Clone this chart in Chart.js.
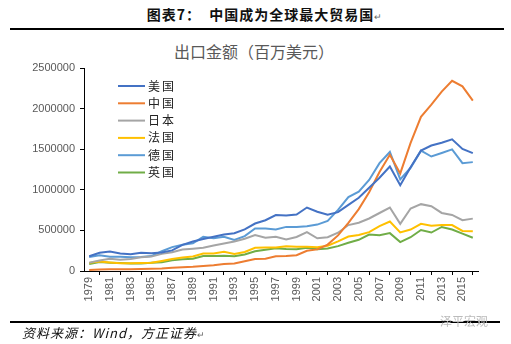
<!DOCTYPE html>
<html>
<head>
<meta charset="utf-8">
<script src="https://cdn.jsdelivr.net/npm/chart.js@4.4.1/dist/chart.umd.min.js"></script>
<style>
  html, body { margin: 0; padding: 0; background: #fff; }
  body { width: 511px; height: 344px; position: relative; overflow: hidden; font-family: "Noto Sans CJK SC", sans-serif; }
  #wrap { position: absolute; left: 0; top: 0; width: 511px; height: 344px; }
  .head { position: absolute; top: 4px; left: 0; width: 530px; text-align: center; font-size: 14px; font-weight: bold; color: #111; letter-spacing: 1px; }
  .rule { position: absolute; left: 10px; width: 494px; height: 2px; background: #000; }
  .ctitle { position: absolute; top: 39px; left: 0; width: 508px; text-align: center; font-size: 16px; color: #595959; }
  .src { position: absolute; left: 22px; top: 323px; font-size: 13px; font-style: italic; color: #111; letter-spacing: 1px; }
  .mark { position: absolute; left: 440px; top: 312px; font-size: 12px; color: #bbb; }
</style>
</head>
<body>
<div class="head">图表7：&nbsp;&nbsp;中国成为全球最大贸易国<span style="font-size:9px;font-weight:normal;color:#666">↵</span></div>
<div class="rule" style="top:28px"></div>
<div class="ctitle">出口金额（百万美元）</div>
<div id="wrap"><canvas id="c" width="511" height="344"></canvas></div>
<div class="rule" style="top:321px; width:490px"></div>
<div class="src">资料来源：Wind，方正证券<span style="font-size:9px;font-style:normal;color:#666">↵</span></div>
<div class="mark">泽平宏观</div>
<script>
// years on the x axis
const years = [];
for (let y = 1979; y <= 2016; y++) years.push(String(y));

// export values, millions of USD
const usa = [181800, 225600, 238700, 216400, 205600, 224000, 218800, 227200, 254100, 322400, 363800, 393600, 421700, 448200, 464800, 512600, 584700, 625100, 688700, 682100, 695800, 781900, 729100, 693100, 724800, 814900, 901100, 1026000, 1148200, 1287400, 1056000, 1278500, 1482500, 1545700, 1579600, 1621900, 1503100, 1451000];
const china = [13700, 18100, 22000, 22300, 22200, 26100, 27400, 30900, 39400, 47500, 52500, 62100, 71800, 84900, 91700, 121000, 148800, 151000, 182800, 183700, 194900, 249200, 266100, 325600, 438200, 593300, 762000, 969000, 1220100, 1430700, 1201600, 1577800, 1898400, 2048700, 2209000, 2342300, 2273500, 2097600];
const japan = [103000, 130400, 151500, 138400, 147000, 170100, 177200, 210800, 231300, 264900, 275200, 287600, 314800, 339900, 362200, 397000, 443100, 410900, 421000, 387900, 419400, 479200, 403500, 416700, 471800, 565700, 594900, 646700, 714300, 781400, 580700, 769800, 823200, 798600, 715100, 690200, 624900, 644900];
const france = [100000, 116000, 106000, 96000, 94000, 97000, 101000, 124000, 148000, 167000, 179000, 216000, 217000, 236000, 210000, 235000, 286000, 288000, 290000, 306000, 300000, 298000, 294000, 311000, 365000, 424000, 443000, 479000, 552000, 609000, 475000, 511000, 581000, 558000, 567000, 566000, 494000, 489000];
const germany = [171800, 192900, 176000, 176400, 169400, 171700, 183900, 243300, 294400, 323300, 341200, 421100, 402800, 422300, 382500, 429700, 523800, 524200, 512400, 543400, 542900, 551800, 571600, 615800, 751700, 909900, 977100, 1121900, 1328800, 1466100, 1127800, 1271100, 1482200, 1410100, 1452700, 1498200, 1328500, 1340800];
const uk = [86400, 110100, 102800, 97000, 91700, 93800, 101400, 107000, 131200, 145100, 152300, 185300, 185100, 187500, 181600, 204000, 242000, 262100, 281100, 271900, 268200, 285400, 267400, 276300, 306600, 347600, 384400, 448300, 441200, 466300, 356100, 416000, 505000, 474000, 542000, 511000, 460000, 409000];

const seriesNames = ['美国', '中国', '日本', '法国', '德国', '英国'];
const seriesData = [usa, china, japan, france, germany, uk];
const colors = ['#4472C4', '#ED7D31', '#A5A5A5', '#FFC000', '#5B9BD5', '#70AD47'];

const tickFont = { family: '"Liberation Sans", sans-serif', size: 11 };

// legend drawn inside the plot, top left
const innerLegend = {
  id: 'innerLegend',
  afterDraw(chart) {
    const ctx = chart.ctx;
    ctx.save();
    ctx.font = '12px "Noto Sans CJK SC", sans-serif';
    ctx.fillStyle = '#222';
    ctx.textBaseline = 'middle';
    chart.data.datasets.forEach((ds, i) => {
      const y = 86 + i * 17.3;
      ctx.strokeStyle = ds.borderColor;
      ctx.lineWidth = 2;
      ctx.beginPath();
      ctx.moveTo(118, y);
      ctx.lineTo(145, y);
      ctx.stroke();
      [...ds.label].forEach((ch, k) => ctx.fillText(ch, 148 + k * 14, y));
    });
    ctx.restore();
  }
};

new Chart(document.getElementById('c'), {
  type: 'line',
  data: {
    labels: years,
    datasets: seriesNames.map((name, i) => ({
      label: name,
      data: seriesData[i],
      borderColor: colors[i],
      backgroundColor: colors[i],
      borderWidth: 2,
      pointRadius: 0,
      tension: 0
    }))
  },
  options: {
    responsive: false,
    animation: false,
    layout: { padding: { left: 0, right: 33, top: 68, bottom: 38 } },
    plugins: { legend: { display: false }, tooltip: { enabled: false } },
    scales: {
      x: {
        offset: true,
        afterFit: s => { s.height = 35; },
        grid: { offset: true, drawOnChartArea: false, drawTicks: true, tickLength: 4, color: '#000' },
        border: { display: true, color: '#000', width: 1 },
        ticks: {
          autoSkip: false,
          maxRotation: 90,
          minRotation: 90,
          padding: 2,
          color: '#595959',
          font: tickFont,
          callback: (v, i) => (i % 2 === 0 ? years[i] : null)
        }
      },
      y: {
        min: 0,
        max: 2500000,
        afterFit: s => { s.width = 84; },
        grid: { drawOnChartArea: false, drawTicks: true, tickLength: 4, color: '#000' },
        border: { display: true, color: '#000', width: 1 },
        ticks: { stepSize: 500000, color: '#595959', font: tickFont, padding: 5, callback: v => String(v) }
      }
    }
  },
  plugins: [innerLegend]
});
</script>
</body>
</html>
